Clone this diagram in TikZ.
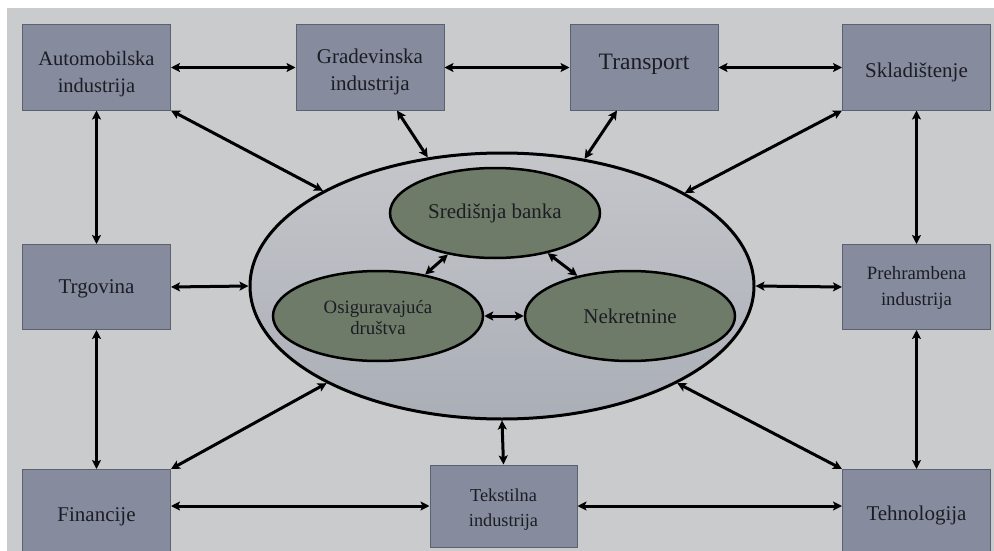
\documentclass[tikz,border=0pt]{standalone}
\usepackage{fontspec}
\setmainfont{Liberation Serif}
\usetikzlibrary{shapes.geometric,arrows.meta}
\definecolor{bgcol}{HTML}{CACBCD}
\definecolor{boxfill}{HTML}{868B9D}
\definecolor{boxline}{HTML}{5C6172}
\definecolor{ringtop}{HTML}{C4C6CA}
\definecolor{ringbot}{HTML}{AAAEB6}
\definecolor{instfill}{HTML}{6F7B69}
\definecolor{txt}{HTML}{1C1D24}
% nevidljivi razmak za spustanje/dizanje teksta u cvoru
\newcommand{\padtop}[1]{\rule{0pt}{#1}}
\newcommand{\padbot}[1]{\rule[-#1]{0pt}{#1}}
\begin{document}
\begin{tikzpicture}[x=1pt,y=-1pt,
		sector/.style={draw=boxline,fill=boxfill,line width=1pt,minimum width=148pt,minimum height=85pt,inner sep=0pt,align=center,text=txt,font=\fontsize{21}{27}\selectfont},
		core/.style={ellipse,draw=black,line width=3pt,top color=ringtop,bottom color=ringbot,minimum width=504pt,minimum height=266pt,inner sep=0pt},
		inst/.style={ellipse,draw=black,line width=2.5pt,fill=instfill,minimum width=210pt,minimum height=90pt,inner sep=0pt,align=center,text=txt,font=\fontsize{21}{21}\selectfont},
		link/.style={{Stealth[length=9pt,width=9pt,inset=2pt]}-{Stealth[length=9pt,width=9pt,inset=2pt]},line width=3pt,black}]
		\path[use as bounding box,clip] (0,0) rectangle (994,551);
		\fill[white] (0,0) rectangle (994,551);
		\fill[bgcol] (7,8) rectangle (994,551);
		% sektori
		\node[sector,font=\fontsize{20.5}{27}\selectfont] (auto) at (96.5,67.5) {\padtop{28pt}Automobilska\\industrija};
		\node[sector] (grad) at (370,67.5) {\padtop{24pt}Gradevinska\\industrija};
		\node[sector,font=\fontsize{23.5}{27}\selectfont] (trans) at (644,67.5) {\padbot{11pt}Transport};
		\node[sector] (sklad) at (916.5,67.5) {\padtop{24pt}Skladištenje};
		\node[sector] (trg) at (96.5,287) {\padtop{18pt}Trgovina};
		\node[sector,font=\fontsize{18.8}{26}\selectfont] (preh) at (916.5,287) {\padtop{14pt}Prehrambena\\industrija};
		\node[sector] (fin) at (96.5,512) {\padtop{24pt}Financije};
		\node[sector,minimum height=82pt,minimum width=147pt,font=\fontsize{18.3}{25}\selectfont] (tekst) at (503.5,506) {\padtop{19pt}Tekstilna\\industrija};
		\node[sector] (teh) at (916.5,512) {\padtop{22pt}Tehnologija};
		% financijski sustav
		\node[core] (ring) at (502,286) {};
		\node[inst] (banka) at (495,213) {Središnja banka};
		\node[inst,font=\fontsize{18.8}{21}\selectfont] (osig) at (378,316) {\padtop{16pt}Osiguravajuća\\društva};
		\node[inst] (nekr) at (630,316) {Nekretnine};
		% veze
		\foreach \from/\to in {auto/grad,grad/trans,trans/sklad}
			\draw[link] (\from.east) -- (\to.west);
		\foreach \from/\to in {auto/trg,trg/fin,sklad/preh,preh/teh}
			\draw[link] (\from.south) -- (\to.north);
		\draw[link] (tekst.west -| fin.east) -- (tekst.west);
		\draw[link] (tekst.east) -- (tekst.east -| teh.west);
		\draw[link] (trg.east) -- (ring.west);
		\draw[link] (preh.west) -- (ring.east);
		\draw[link] (auto.south east) -- (ring.152);
		\draw[link] ([xshift=27pt]grad.south) -- (ring.120);
		\draw[link] ([xshift=-27pt]trans.south) -- (ring.57);
		\draw[link] (sklad.south west) -- (ring.27);
		\draw[link] (fin.north east) -- (ring.209);
		\draw[link] (teh.north west) -- (ring.331);
		\draw[link] (tekst.north) -- (ring.south);
		\foreach \from/\to in {banka/osig,banka/nekr,osig/nekr}
			\draw[link] (\from) -- (\to);
	\end{tikzpicture}
\end{document}
